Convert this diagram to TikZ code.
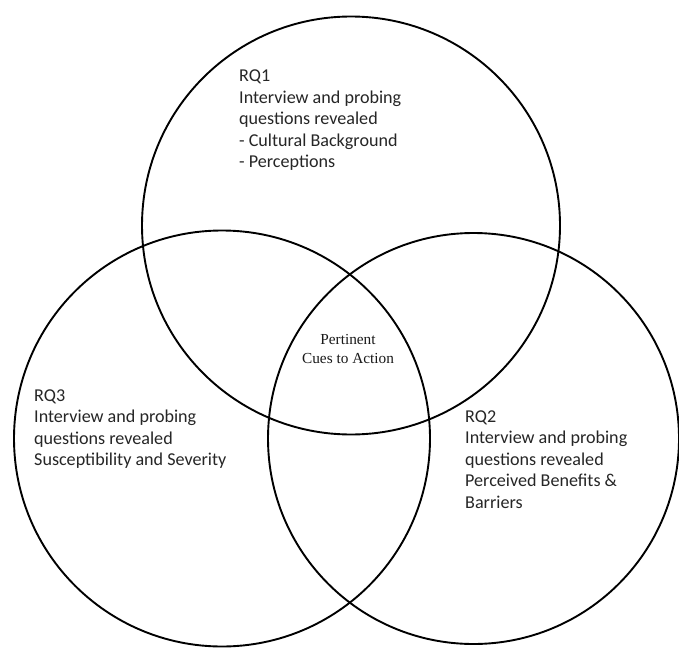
\documentclass[tikz,border=0pt]{standalone}
\usepackage{fontspec}
\newfontfamily\calib{Carlito}
\newfontfamily\tms{Liberation Serif}
\begin{document}
\begin{tikzpicture}[x=1pt,y=-1pt,
  venn/.style={circle, draw=black, line width=1.9pt, inner sep=0pt},
  lbl/.style={anchor=base west, inner sep=0pt, text=black!85,
    font=\calib\fontsize{18.1}{21.6}\selectfont},
  mid/.style={inner sep=0pt, align=center, text=black!90,
    font=\tms\fontsize{15.3}{18.7}\selectfont}]
\useasboundingbox (0,0) rectangle (679,647);
\fill[white] (0,0) rectangle (679,647);
\node[venn, minimum size=418pt] (c1) at (351,225.5) {};
\node[venn, minimum size=416pt] (c3) at (222,438.5) {};
\node[venn, minimum size=411pt] (c2) at (473.5,438.5) {};
\renewcommand\arraystretch{1}
\node[lbl] (t1) at (239,81.5) {\begin{tabular}[t]{@{}l@{}}RQ1\\Interview and probing\\questions revealed\\- Cultural Background\\- Perceptions\end{tabular}};
\node[lbl] (t3) at (34,401) {\begin{tabular}[t]{@{}l@{}}RQ3\\Interview and probing\\questions revealed\\Susceptibility and Severity\end{tabular}};
\node[lbl] (t2) at (465,422) {\begin{tabular}[t]{@{}l@{}}RQ2\\Interview and probing\\questions revealed\\Perceived Benefits \&\\Barriers\end{tabular}};
\node[mid, anchor=base] (tc) at (348,363) {Pertinent\\Cues to Action};
\end{tikzpicture}
\end{document}
